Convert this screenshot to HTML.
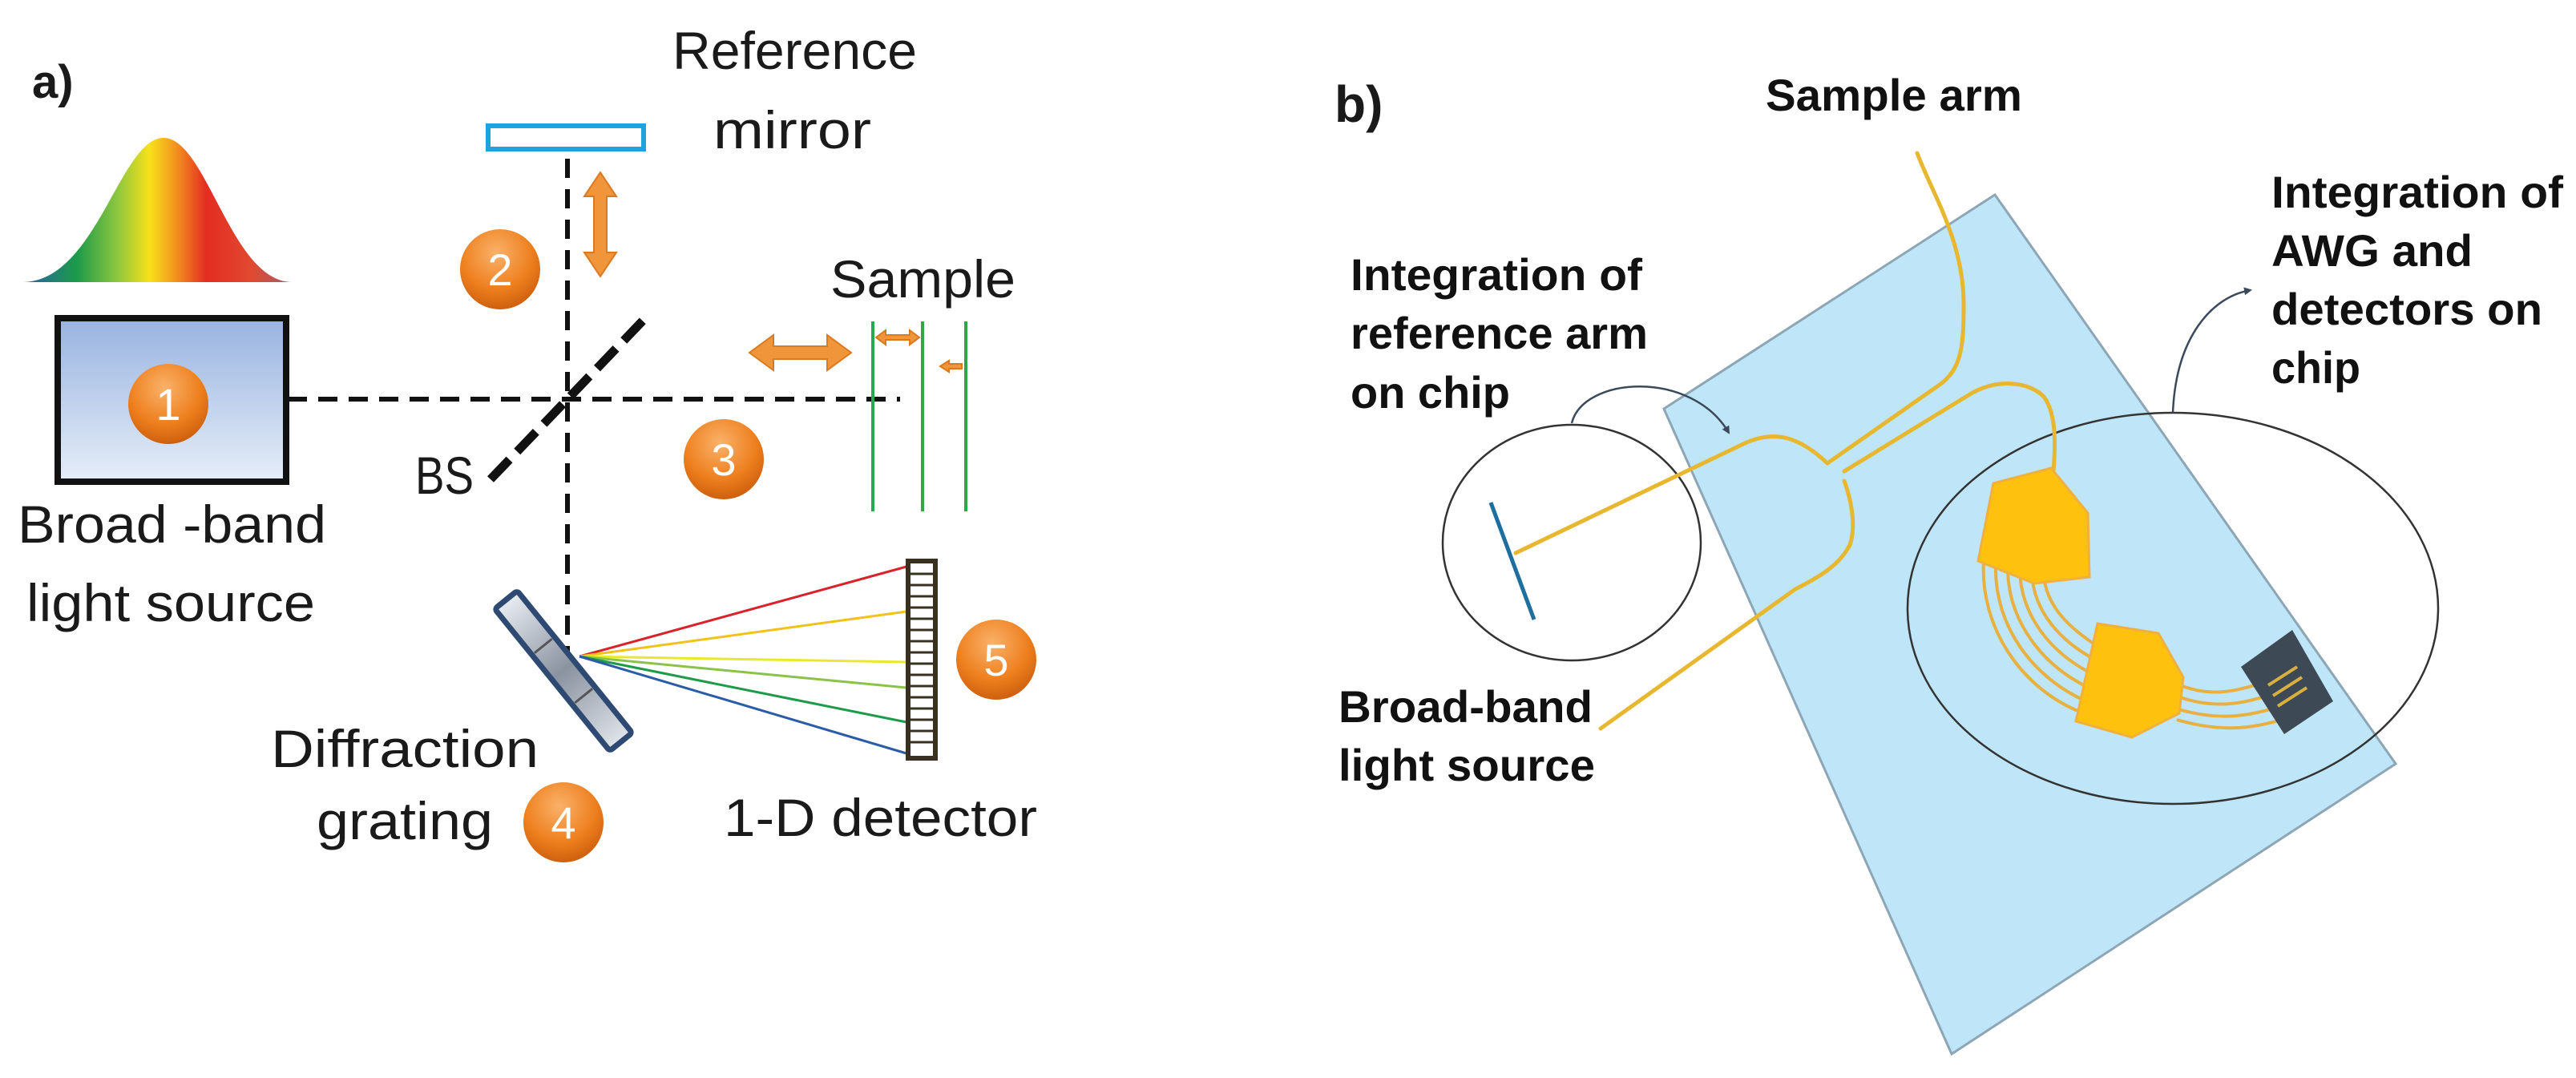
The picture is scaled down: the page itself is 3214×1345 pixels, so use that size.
<!DOCTYPE html>
<html><head><meta charset="utf-8"><style>
html,body{margin:0;padding:0;background:#fff}
svg{display:block}
.ta{font-family:"Liberation Sans",sans-serif;fill:#1a1a1a}
.tb{font-family:"Liberation Sans Narrow","Liberation Sans",sans-serif;font-weight:bold;fill:#111}
.num{font-family:"Liberation Sans",sans-serif;fill:#fff;font-size:56px;text-anchor:middle}
</style></head><body>
<svg width="3214" height="1345" viewBox="0 0 3214 1345" xmlns="http://www.w3.org/2000/svg">
<defs>
<linearGradient id="spec" x1="0" x2="1" y1="0" y2="0">
<stop offset="0" stop-color="#2a5fa8"/><stop offset="0.2" stop-color="#1c9a4a"/>
<stop offset="0.35" stop-color="#8cc63f"/><stop offset="0.47" stop-color="#f7e11a"/>
<stop offset="0.56" stop-color="#f39a1e"/><stop offset="0.68" stop-color="#e32d22"/>
<stop offset="0.85" stop-color="#e04a30"/><stop offset="1" stop-color="#a06070"/>
</linearGradient>
<linearGradient id="box" x1="0" x2="0" y1="0" y2="1">
<stop offset="0" stop-color="#98b3e0"/><stop offset="1" stop-color="#e6eef8"/>
</linearGradient>
<radialGradient id="orb" cx="0.45" cy="0.3" r="0.75">
<stop offset="0" stop-color="#f9b26a"/><stop offset="0.6" stop-color="#ee7f1e"/><stop offset="1" stop-color="#c85a0c"/>
</radialGradient>
<linearGradient id="grat" x1="0" x2="1">
<stop offset="0" stop-color="#e8ecf2"/><stop offset="0.5" stop-color="#8a93a0"/><stop offset="1" stop-color="#e0e4ea"/>
</linearGradient>
<marker id="ah" markerWidth="10" markerHeight="10" refX="8" refY="5" orient="auto" markerUnits="userSpaceOnUse"><path d="M0,0 L10,5 L0,10 z" fill="#3a4a5a"/></marker>
</defs>

<!-- ===== Panel a ===== -->
<text x="40" y="122" class="ta" font-size="58" font-weight="bold">a)</text>

<!-- gaussian spectrum -->
<path d="M28,352 C120,352 150,172 204,172 C258,172 288,352 365,352 Z" fill="url(#spec)"/>

<!-- light source box -->
<rect x="72" y="397" width="285" height="204" fill="url(#box)" stroke="#111" stroke-width="8"/>

<!-- reference mirror -->
<rect x="609" y="157" width="194" height="29" fill="#fff" stroke="#1fa3dc" stroke-width="6"/>

<!-- dashed beams -->
<g stroke="#111" stroke-width="6" stroke-dasharray="24 14" fill="none">
<line x1="708" y1="198" x2="708" y2="820"/>
<line x1="359" y1="498" x2="1123" y2="498"/>
</g>
<line x1="612" y1="598" x2="805" y2="397" stroke="#111" stroke-width="11" stroke-dasharray="34 14"/>

<!-- sample green lines -->
<g stroke="#2aa84a" stroke-width="4">
<line x1="1089" y1="401" x2="1089" y2="638"/>
<line x1="1151" y1="401" x2="1151" y2="638"/>
<line x1="1205" y1="401" x2="1205" y2="638"/>
</g>

<!-- orange arrows -->
<g fill="#f0953a" stroke="#d97a20" stroke-width="2">
<path d="M749,215 L769,245 L757,245 L757,315 L769,315 L749,345 L729,315 L741,315 L741,245 L729,245 Z"/>
<path d="M935,440 L965,418 L965,432 L1032,432 L1032,418 L1062,440 L1032,462 L1032,448 L965,448 L965,462 Z"/>
<path d="M1093,421 L1105,412 L1105,418 L1135,418 L1135,412 L1147,421 L1135,430 L1135,424 L1105,424 L1105,430 Z"/>
<path d="M1173,457 L1184,450 L1184,454 L1200,454 L1200,460 L1184,460 L1184,464 Z"/>
</g>

<!-- grating -->
<g transform="translate(703,837) rotate(51)">
<rect x="-114" y="-18" width="228" height="36" rx="4" fill="url(#grat)" stroke="#2e4a72" stroke-width="7"/>
<line x1="-40" y1="-14" x2="-40" y2="14" stroke="#555" stroke-width="3"/>
<line x1="40" y1="-14" x2="40" y2="14" stroke="#555" stroke-width="3"/>
</g>

<!-- rays -->
<g stroke-width="3" fill="none">
<line x1="723" y1="819" x2="1131" y2="707" stroke="#d8232a"/>
<line x1="723" y1="819" x2="1131" y2="763" stroke="#f2c21b"/>
<line x1="723" y1="819" x2="1131" y2="826" stroke="#e8e830"/>
<line x1="723" y1="819" x2="1131" y2="858" stroke="#8bc34a"/>
<line x1="723" y1="819" x2="1131" y2="901" stroke="#1e9a4a"/>
<line x1="723" y1="819" x2="1131" y2="940" stroke="#2a5ca8"/>
</g>

<!-- detector -->
<rect x="1133" y="700" width="34" height="246" fill="#fff" stroke="#3a3020" stroke-width="6"/>
<g stroke="#3a3020" stroke-width="3">
<line x1="1133" y1="716" x2="1167" y2="716"/><line x1="1133" y1="730" x2="1167" y2="730"/><line x1="1133" y1="744" x2="1167" y2="744"/>
<line x1="1133" y1="758" x2="1167" y2="758"/><line x1="1133" y1="772" x2="1167" y2="772"/><line x1="1133" y1="786" x2="1167" y2="786"/>
<line x1="1133" y1="800" x2="1167" y2="800"/><line x1="1133" y1="814" x2="1167" y2="814"/><line x1="1133" y1="828" x2="1167" y2="828"/>
<line x1="1133" y1="842" x2="1167" y2="842"/><line x1="1133" y1="856" x2="1167" y2="856"/><line x1="1133" y1="870" x2="1167" y2="870"/>
<line x1="1133" y1="884" x2="1167" y2="884"/><line x1="1133" y1="898" x2="1167" y2="898"/><line x1="1133" y1="912" x2="1167" y2="912"/>
<line x1="1133" y1="926" x2="1167" y2="926"/>
</g>

<!-- numbered orbs -->
<g>
<circle cx="210" cy="504" r="50" fill="url(#orb)"/><text x="210" y="524" class="num">1</text>
<circle cx="624" cy="336" r="50" fill="url(#orb)"/><text x="624" y="356" class="num">2</text>
<circle cx="903" cy="573" r="50" fill="url(#orb)"/><text x="903" y="593" class="num">3</text>
<circle cx="703" cy="1026" r="50" fill="url(#orb)"/><text x="703" y="1046" class="num">4</text>
<circle cx="1243" cy="823" r="50" fill="url(#orb)"/><text x="1243" y="843" class="num">5</text>
</g>

<!-- labels a -->
<g class="ta" font-size="66">
<text x="839" y="86" textLength="305" lengthAdjust="spacingAndGlyphs">Reference</text>
<text x="890" y="185" textLength="197" lengthAdjust="spacingAndGlyphs">mirror</text>
<text x="1036" y="371" textLength="231" lengthAdjust="spacingAndGlyphs">Sample</text>
<text x="518" y="616" textLength="73" lengthAdjust="spacingAndGlyphs">BS</text>
<text x="22" y="677" textLength="385" lengthAdjust="spacingAndGlyphs">Broad -band</text>
<text x="33" y="775" textLength="360" lengthAdjust="spacingAndGlyphs">light source</text>
<text x="338" y="957" textLength="334" lengthAdjust="spacingAndGlyphs">Diffraction</text>
<text x="395" y="1047" textLength="220" lengthAdjust="spacingAndGlyphs">grating</text>
<text x="903" y="1043" textLength="391" lengthAdjust="spacingAndGlyphs">1-D detector</text>
</g>

<!-- ===== Panel b ===== -->
<text x="1665" y="152" class="ta" font-size="64" font-weight="bold">b)</text>

<!-- chip -->
<polygon points="2076,510 2489,243 2989,953 2435,1315" fill="#bfe6f8" stroke="#8ca6b5" stroke-width="3"/>

<!-- circles -->
<ellipse cx="1961" cy="677" rx="161" ry="147" fill="none" stroke="#333" stroke-width="2.5"/>
<ellipse cx="2711" cy="759" rx="331" ry="244" fill="none" stroke="#333" stroke-width="2.5"/>
<path d="M1961,528 C1975,470 2110,460 2157,540" fill="none" stroke="#3a4a5a" stroke-width="2.5" marker-end="url(#ah)"/>
<path d="M2711,515 C2715,420 2760,370 2808,362" fill="none" stroke="#3a4a5a" stroke-width="2.5" marker-end="url(#ah)"/>

<!-- mirror -->
<line x1="1860" y1="627" x2="1914" y2="773" stroke="#1e6ea0" stroke-width="5"/>

<!-- waveguides -->
<g fill="none" stroke="#e8b730" stroke-width="5" stroke-linecap="round">
<path d="M1891,690 L2177,553 C2215,536 2245,545 2280,578"/>
<path d="M2392,191 C2410,240 2450,300 2450,380 C2450,430 2448,460 2420,480 L2280,578"/>
<path d="M2301,588 L2456,493 C2490,472 2530,475 2550,495 C2565,515 2565,550 2562,588"/>
<path d="M2301,600 C2312,630 2315,660 2308,680 C2295,705 2270,720 2240,735 L1997,909"/>
</g>
<!-- AWG region waveguides -->
<g fill="none" stroke="#e8b040" stroke-width="4">
<path d="M2475,700 C2470,780 2520,860 2600,890"/>
<path d="M2490,705 C2488,780 2535,845 2603,875"/>
<path d="M2505,708 C2505,775 2548,830 2606,858"/>
<path d="M2520,712 C2522,770 2560,815 2609,840"/>
<path d="M2535,716 C2538,765 2572,800 2612,822"/>
<path d="M2550,720 C2555,760 2585,785 2615,805"/>
<path d="M2720,855 C2760,870 2790,865 2850,842"/>
<path d="M2720,870 C2765,885 2800,880 2858,858"/>
<path d="M2718,885 C2770,900 2810,895 2866,874"/>
<path d="M2716,898 C2775,915 2815,910 2872,890"/>
</g>
<!-- detector chip -->
<polygon points="2796,832 2860,786 2911,875 2850,916" fill="#3d4a55"/>
<g stroke="#d9b040" stroke-width="4">
<line x1="2830" y1="855" x2="2866" y2="832"/>
<line x1="2836" y1="868" x2="2872" y2="845"/>
<line x1="2842" y1="881" x2="2878" y2="858"/>
</g>
<!-- AWG slabs -->
<polygon points="2487,603 2559,584 2605,640 2607,720 2538,728 2468,700" fill="#fdc10e" stroke="#f0b040" stroke-width="3"/>
<polygon points="2617,778 2693,790 2724,845 2719,890 2660,920 2590,900" fill="#fdc10e" stroke="#f0b040" stroke-width="3"/>

<!-- labels b -->
<g class="tb" font-size="56">
<text x="2203" y="138" textLength="320" lengthAdjust="spacingAndGlyphs">Sample arm</text>
<text x="1685" y="362" textLength="364" lengthAdjust="spacingAndGlyphs">Integration of</text>
<text x="1685" y="435" textLength="371" lengthAdjust="spacingAndGlyphs">reference arm</text>
<text x="1685" y="509" textLength="199" lengthAdjust="spacingAndGlyphs">on chip</text>
<text x="2834" y="259" textLength="364" lengthAdjust="spacingAndGlyphs">Integration of</text>
<text x="2834" y="332" textLength="251" lengthAdjust="spacingAndGlyphs">AWG and</text>
<text x="2834" y="405" textLength="338" lengthAdjust="spacingAndGlyphs">detectors on</text>
<text x="2834" y="478" textLength="111" lengthAdjust="spacingAndGlyphs">chip</text>
<text x="1670" y="901" textLength="317" lengthAdjust="spacingAndGlyphs">Broad-band</text>
<text x="1670" y="974" textLength="320" lengthAdjust="spacingAndGlyphs">light source</text>
</g>
</svg>
</body></html>
